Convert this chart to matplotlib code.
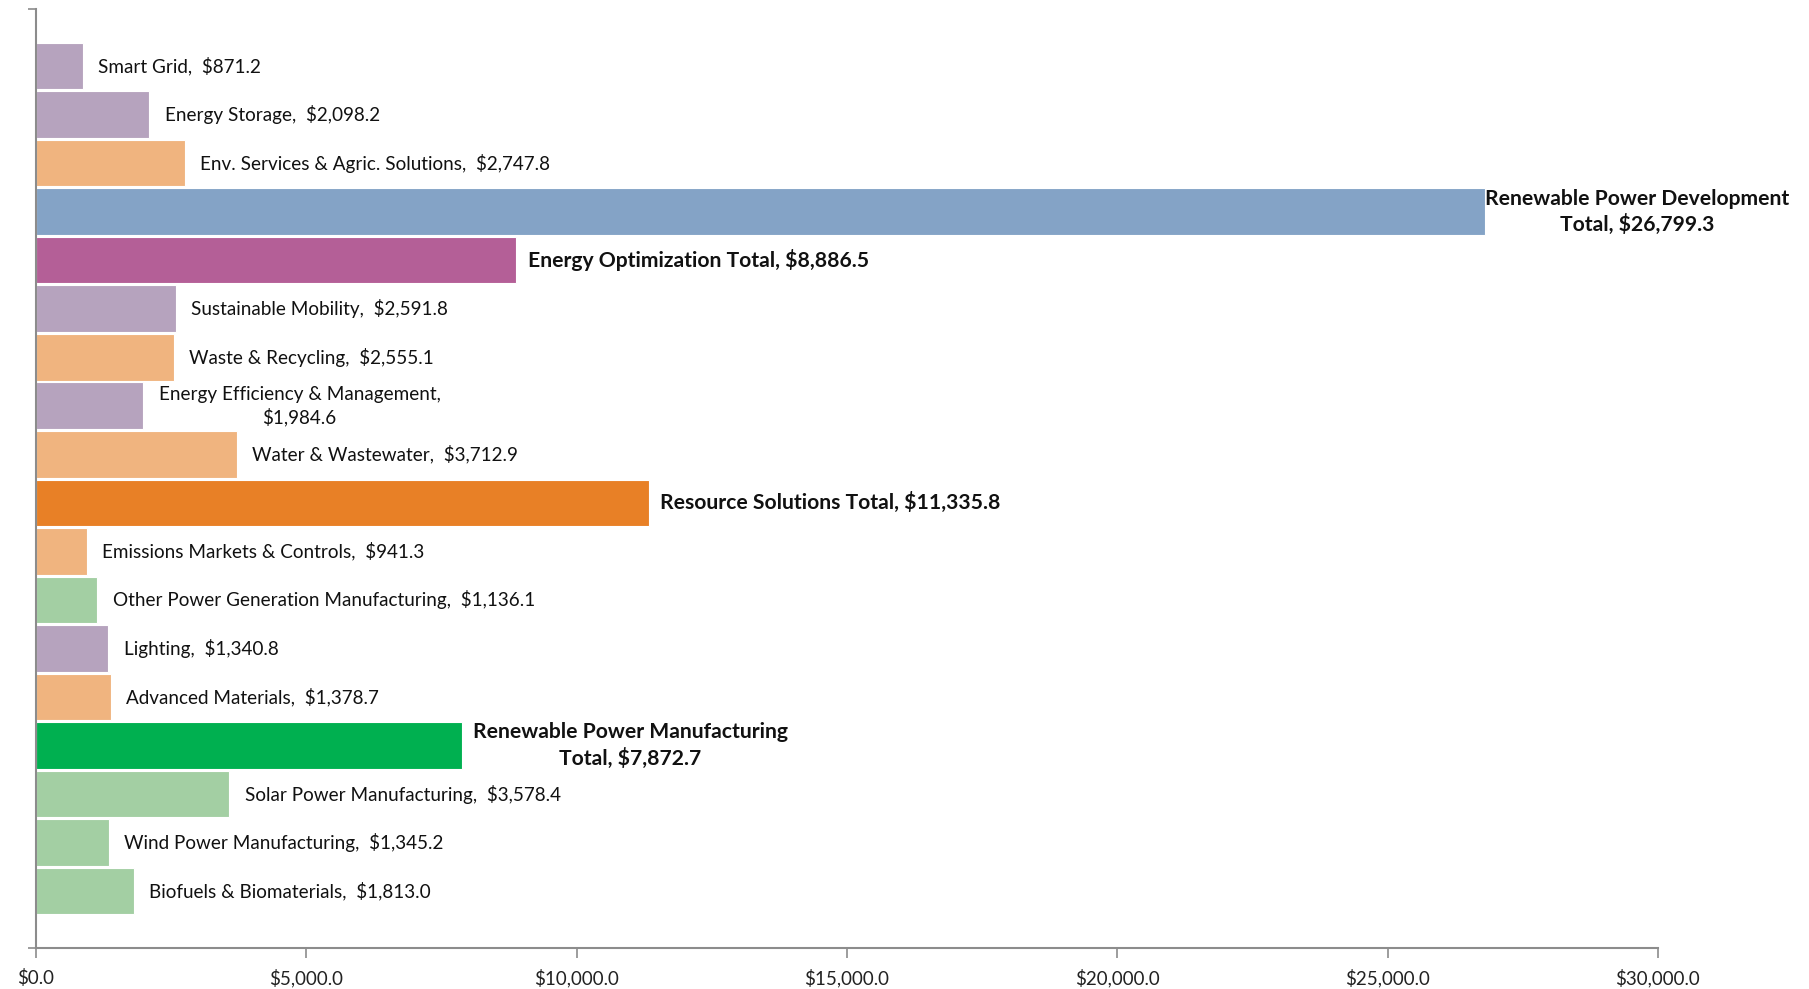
import matplotlib
matplotlib.use("Agg")
import matplotlib.pyplot as plt
from matplotlib.ticker import FuncFormatter

categories = [
    "Smart Grid", "Energy Storage", "Env. Services & Agric. Solutions",
    "Renewable Power Development\nTotal", "Energy Optimization Total",
    "Sustainable Mobility", "Waste & Recycling", "Energy Efficiency & Management,\n",
    "Water & Wastewater", "Resource Solutions Total", "Emissions Markets & Controls",
    "Other Power Generation Manufacturing", "Lighting", "Advanced Materials",
    "Renewable Power Manufacturing\n", "Solar Power Manufacturing",
    "Wind Power Manufacturing", "Biofuels & Biomaterials",
]
values = [871.2, 2098.2, 2747.8, 26799.3, 8886.5, 2591.8, 2555.1, 1984.6,
          3712.9, 11335.8, 941.3, 1136.1, 1340.8, 1378.7, 7872.7, 3578.4,
          1345.2, 1813.0]
is_total = [False, False, False, True, True, False, False, False, False, True,
            False, False, False, False, True, False, False, False]
colors = ["#B6A3BE", "#B6A3BE", "#F0B47F", "#84A3C6", "#B45F97", "#B6A3BE",
          "#F0B47F", "#B6A3BE", "#F0B47F", "#E88026", "#F0B47F", "#A3CFA3",
          "#B6A3BE", "#F0B47F", "#00B050", "#A3CFA3", "#A3CFA3", "#A3CFA3"]
xticks = [0, 5000, 10000, 15000, 20000, 25000, 30000]

FONT = ["Lato", "DejaVu Sans"]
plt.rcParams["font.family"] = FONT

fig = plt.figure(figsize=(18.09, 9.89), dpi=100)
ax = fig.add_axes([0.0199, 0.0415, 0.8966, 0.9492])

n = len(values)
ypos = list(range(n))
ax.barh(ypos, values, height=0.96, color=colors, edgecolor="white", linewidth=0.8)

ax.set_xlim(0, 30000)
ax.set_ylim(n - 0.5 + 0.67, -0.5 - 0.67)
ax.set_xticks(xticks)
ax.xaxis.set_major_formatter(FuncFormatter(lambda v, p: f"${v:,.1f}"))
ax.set_yticks([n - 0.5 + 0.67, -0.5 - 0.67])
ax.set_yticklabels([])
ax.tick_params(axis="x", length=7, width=1.2, color="#8C8C8C", labelsize=13.5,
               labelcolor="#222222", pad=8)
ax.tick_params(axis="y", length=6, width=1.2, color="#8C8C8C")
for s in ["top", "right"]:
    ax.spines[s].set_visible(False)
for s in ["left", "bottom"]:
    ax.spines[s].set_color("#8C8C8C")
    ax.spines[s].set_linewidth(1.5)

for i, (cat, v, tot) in enumerate(zip(categories, values, is_total)):
    name = cat.rstrip("\n")
    if cat.endswith("\n"):
        txt = f"{name}\n${v:,.1f}" if not tot else f"{name}\nTotal, ${v:,.1f}"
    elif tot:
        txt = f"{name}, ${v:,.1f}"
    else:
        txt = f"{name},  ${v:,.1f}"
    off = 11 if not tot else 8
    if v > 20000:
        off = 0
    ax.annotate(txt, xy=(v, i), xytext=(off, 0), textcoords="offset points",
                ha="left", va="center", multialignment="center",
                fontsize=15.2 if tot else 13.6, fontweight="bold" if tot else "normal",
                color="#111111", linespacing=1.3)

fig.savefig("out.png", dpi=100)
